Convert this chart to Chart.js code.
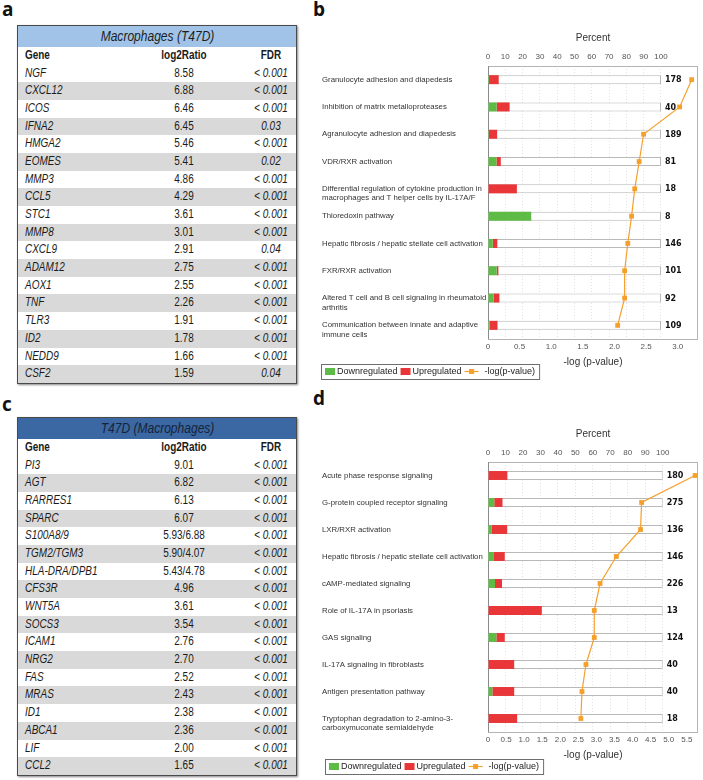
<!DOCTYPE html>
<html>
<head>
<meta charset="utf-8">
<script src="https://cdn.jsdelivr.net/npm/chart.js@4.4.1/dist/chart.umd.min.js"></script>
<style>
  body { margin: 0; width: 703px; height: 780px; position: relative; background: #fff; overflow: hidden;
         font-family: "Liberation Sans", Arial, sans-serif; }
  .lbl { position: absolute; font: bold 19px "Open Sans", "DejaVu Sans", sans-serif; color: #111; line-height: 19px; }
  .tbl { position: absolute; left: 17px; width: 278px; border: 1.5px solid #4a4a4a; box-shadow: 1px 1px 2px #888;
         font-family: "Liberation Sans", Arial, sans-serif; font-size: 12px; color: #1b1b1b; }
  .row { position: relative; height: 17.7px; line-height: 17.7px; white-space: nowrap; }
  .row.g { background: #d9d9d9; }
  .row span { position: absolute; top: 0; transform: scaleX(0.83); }
  .row .gn { left: 7px; font-style: italic; transform-origin: left center; }
  .row .rt { left: 126px; width: 80px; text-align: center; transform-origin: center; }
  .row .fd { left: 218px; width: 70px; text-align: center; transform-origin: center; }
  .row .fd i { font-style: italic; }
  .hd { height: 21px; line-height: 21px; text-align: center; font-style: italic; font-size: 14.5px; }
  .hd span { display: inline-block; transform: scaleX(0.83); }
  .ch { height: 17.5px; line-height: 17.5px; font-weight: bold; }
  .ch .gn { font-style: normal; }
  .chart { position: absolute; left: 312px; width: 391px; height: 390px; }
</style>
</head>
<body>
<div class="lbl" style="left:2px;top:0px">a</div>
<div class="lbl" style="left:313px;top:0px">b</div>
<div class="lbl" style="left:2px;top:395px">c</div>
<div class="lbl" style="left:313px;top:389px">d</div>

<div class="tbl" id="ta" style="top:25px"></div>
<div class="tbl" id="tc" style="top:417px"></div>

<div class="chart" style="top:0px"><canvas id="cb" width="391" height="390"></canvas></div>
<div class="chart" style="top:390px"><canvas id="cd" width="391" height="390"></canvas></div>

<script>
// ---- table a: Macrophages (T47D)
const aGenes = ['NGF', 'CXCL12', 'ICOS', 'IFNA2', 'HMGA2', 'EOMES', 'MMP3', 'CCL5', 'STC1', 'MMP8',
  'CXCL9', 'ADAM12', 'AOX1', 'TNF', 'TLR3', 'ID2', 'NEDD9', 'CSF2']
const aRatio = ['8.58', '6.88', '6.46', '6.45', '5.46', '5.41', '4.86', '4.29', '3.61', '3.01',
  '2.91', '2.75', '2.55', '2.26', '1.91', '1.78', '1.66', '1.59']
const aFdr = ['< 0.001', '< 0.001', '< 0.001', '0.03', '< 0.001', '0.02', '< 0.001', '< 0.001', '< 0.001', '< 0.001',
  '0.04', '< 0.001', '< 0.001', '< 0.001', '< 0.001', '< 0.001', '< 0.001', '0.04']

// ---- table c: T47D (Macrophages)
const cGenes = ['PI3', 'AGT', 'RARRES1', 'SPARC', 'S100A8/9', 'TGM2/TGM3', 'HLA-DRA/DPB1', 'CFS3R', 'WNT5A', 'SOCS3',
  'ICAM1', 'NRG2', 'FAS', 'MRAS', 'ID1', 'ABCA1', 'LIF', 'CCL2']
const cRatio = ['9.01', '6.82', '6.13', '6.07', '5.93/6.88', '5.90/4.07', '5.43/4.78', '4.96', '3.61', '3.54',
  '2.76', '2.70', '2.52', '2.43', '2.38', '2.36', '2.00', '1.65']
const cFdr = cGenes.map(() => '< 0.001')

// ---- chart b
const bPathways = [
  'Granulocyte adhesion and diapedesis',
  'Inhibition of matrix metalloproteases',
  'Agranulocyte adhesion and diapedesis',
  'VDR/RXR activation',
  ['Differential regulation of cytokine production in', 'macrophages and T helper cells by IL-17A/F'],
  'Thioredoxin pathway',
  'Hepatic fibrosis / hepatic stellate cell activation',
  'FXR/RXR activation',
  ['Altered T cell and B cell signaling in rheumatoid', 'arthritis'],
  ['Communication between innate and adaptive', 'immune cells']
]
const bDown = [0.6, 5.0, 0.5, 4.9, 0, 25.0, 2.7, 5.0, 3.3, 0.9]
const bUp = [5.6, 7.5, 4.8, 2.5, 16.7, 0, 2.7, 1.0, 3.3, 4.6]
const bTotal = [178, 40, 189, 81, 18, 8, 146, 101, 92, 109]
const bLogP = [3.22, 3.03, 2.46, 2.39, 2.32, 2.27, 2.21, 2.16, 2.16, 2.05]

// ---- chart d
const dPathways = [
  'Acute phase response signaling',
  'G-protein coupled receptor signaling',
  'LXR/RXR activation',
  'Hepatic fibrosis / hepatic stellate cell activation',
  'cAMP-mediated signaling',
  'Role of IL-17A in psoriasis',
  'GAS signaling',
  'IL-17A signaling in fibroblasts',
  'Antigen presentation pathway',
  ['Tryptophan degradation to 2-amino-3-', 'carboxymuconate semialdehyde']
]
const dDown = [0, 3.6, 2.2, 3.4, 4.0, 0, 4.8, 0, 2.5, 0]
const dUp = [11.1, 4.7, 8.8, 6.2, 4.0, 30.8, 4.8, 15.0, 12.5, 16.7]
const dTotal = [180, 275, 136, 146, 226, 13, 124, 40, 40, 18]
const dLogP = [5.73, 4.25, 4.22, 3.55, 3.10, 2.94, 2.94, 2.71, 2.60, 2.57]

function buildTable(el, title, headBg, headColor, genes, ratios, fdrs) {
  let html = `<div class="hd" style="background:${headBg};color:${headColor}"><span>${title}</span></div>`
  html += `<div class="row ch"><span class="gn">Gene</span><span class="rt">log2Ratio</span><span class="fd">FDR</span></div>`
  genes.forEach((g, i) => {
    const f = fdrs[i].startsWith('<') ? '&lt; <i>' + fdrs[i].slice(2) + '</i>' : '<i>' + fdrs[i] + '</i>'
    html += `<div class="row${i % 2 ? ' g' : ''}"><span class="gn">${g}</span><span class="rt">${ratios[i]}</span><span class="fd">${f}</span></div>`
  })
  document.getElementById(el).innerHTML = html
}

buildTable('ta', 'Macrophages (T47D)', '#a0c3e7', '#1e1e1e', aGenes, aRatio, aFdr)
buildTable('tc', 'T47D (Macrophages)', '#3b67a2', '#15243a', cGenes, cRatio, cFdr)

const GREEN = '#5dbb46'
const RED = '#e93639'
const ORANGE = '#f6a02c'

Chart.defaults.font.family = '"Liberation Sans", Arial, sans-serif'

// box around plot area
const framePlugin = {
  id: 'frame',
  beforeDatasetsDraw(chart) {
    const { ctx, chartArea: a } = chart
    ctx.save()
    ctx.strokeStyle = '#b4b4b4'
    ctx.lineWidth = 1
    ctx.strokeRect(a.left + 0.5, a.top + 0.5, a.right - a.left - 1, a.bottom - a.top)
    ctx.strokeStyle = '#8a8a8a'
    ctx.beginPath()
    ctx.moveTo(a.left + 0.5, a.top)
    ctx.lineTo(a.left + 0.5, a.bottom)
    ctx.stroke()
    ctx.restore()
  }
}

// gene counts next to each bar
const countPlugin = {
  id: 'counts',
  afterDatasetsDraw(chart, args, opts) {
    const { ctx, scales } = chart
    ctx.save()
    ctx.font = 'bold 8px "DejaVu Sans", sans-serif'
    ctx.fillStyle = '#111'
    ctx.textBaseline = 'middle'
    opts.values.forEach((v, i) => {
      ctx.fillText(String(v), scales.xp.getPixelForValue(100) + 4, scales.y.getPixelForValue(i) + 0.5)
    })
    ctx.restore()
  }
}

// framed legend under the chart
const legendBoxPlugin = {
  id: 'legendBox',
  afterDraw(chart, args, opts) {
    const ctx = chart.ctx
    const ds = chart.data.datasets
    const h = 15
    const y = opts.y + h / 2
    let x = opts.x + 4
    ctx.save()
    ctx.font = '9px "Liberation Sans", Arial, sans-serif'
    ctx.textBaseline = 'middle'
    ;[ds[0], ds[1]].forEach(d => {
      ctx.fillStyle = d.backgroundColor
      ctx.fillRect(x, y - 3.5, 10, 7)
      x += 12
      ctx.fillStyle = '#222'
      ctx.fillText(d.label, x, y + 0.5)
      x += ctx.measureText(d.label).width + 3
    })
    const ln = ds[3]
    ctx.strokeStyle = ln.borderColor
    ctx.lineWidth = 1.2
    ctx.beginPath()
    ctx.moveTo(x, y)
    ctx.lineTo(x + 14, y)
    ctx.stroke()
    ctx.fillStyle = ln.pointBackgroundColor
    ctx.fillRect(x + 4.5, y - 2.5, 5, 5)
    x += 20
    ctx.fillStyle = '#222'
    ctx.fillText(ln.label, x, y + 0.5)
    x += ctx.measureText(ln.label).width + 4
    ctx.strokeStyle = '#6e6e6e'
    ctx.lineWidth = 1
    ctx.strokeRect(opts.x + 0.5, opts.y + 0.5, x - opts.x, h)
    ctx.restore()
  }
}

function makeChart(id, labels, down, up, total, logp, cfg) {
  return new Chart(document.getElementById(id), {
    type: 'bar',
    data: {
      labels: labels,
      datasets: [
        { label: 'Downregulated', data: down, backgroundColor: GREEN, xAxisID: 'xp', stack: 'v', grouped: false, order: 2 },
        { label: 'Upregulated', data: up, backgroundColor: RED, xAxisID: 'xp', stack: 'v', grouped: false, order: 2 },
        { label: 'all genes', data: total.map(() => 100), backgroundColor: '#fff', borderColor: '#b9b9b9', borderWidth: 1,
          xAxisID: 'xp', stack: 'bg', grouped: false, order: 3 },
        { type: 'line', label: '-log(p-value)', data: logp, indexAxis: 'y', xAxisID: 'xl', yAxisID: 'y',
          borderColor: ORANGE, borderWidth: 1.2, pointStyle: 'rect', pointRadius: 3.4,
          pointBackgroundColor: ORANGE, pointBorderColor: ORANGE, pointBorderWidth: 0, order: 1 }
      ]
    },
    options: {
      indexAxis: 'y',
      responsive: false,
      animation: false,
      events: [],
      categoryPercentage: 1,
      barPercentage: 0.33,
      layout: { padding: { left: 10, right: 5, top: cfg.padTop, bottom: cfg.padBottom } },
      plugins: {
        legend: { display: false },
        tooltip: { enabled: false },
        counts: { values: total },
        legendBox: { x: cfg.legendX, y: cfg.legendY }
      },
      scales: {
        y: {
          type: 'category',
          position: 'left',
          offset: true,
          grid: { display: false, drawTicks: false },
          border: { display: false },
          ticks: {
            autoSkip: false,
            crossAlign: 'far',
            color: '#333',
            font: { size: 7.8 },
            callback(v) {
              const l = this.getLabelForValue(v)
              return Array.isArray(l) ? [''].concat(l) : l
            }
          },
          afterFit(s) { s.width = 166 }
        },
        xp: {
          type: 'linear',
          position: 'top',
          stacked: true,
          min: 0,
          max: cfg.pctMax,
          grid: { color: '#e2e2e2', drawTicks: false },
          border: { display: false, dash: [1, 2] },
          ticks: { stepSize: 10, includeBounds: false, color: '#555', font: { size: 8 }, padding: 4 },
          afterBuildTicks(s) { s.ticks = s.ticks.filter(t => t.value <= 100) },
          title: { display: true, text: 'Percent', color: '#333', font: { size: 10 }, padding: { top: 0, bottom: 4 } }
        },
        xl: {
          type: 'linear',
          position: 'bottom',
          min: 0,
          max: cfg.logMax,
          grid: { display: false, drawTicks: false },
          border: { display: false },
          ticks: {
            stepSize: 0.5,
            includeBounds: false,
            color: '#555',
            font: { size: 8 },
            padding: 3,
            callback: v => v === 0 ? '0' : v.toFixed(1)
          },
          title: { display: true, text: '-log (p-value)', color: '#333', font: { size: 10 }, padding: { top: 2, bottom: 0 } }
        }
      }
    },
    plugins: [framePlugin, countPlugin, legendBoxPlugin]
  })
}

makeChart('cb', bPathways, bDown, bUp, bTotal, bLogP,
  { pctMax: 121.4, logMax: 3.32, padTop: 32.4, padBottom: 21.4, legendX: 9, legendY: 364 })
makeChart('cd', dPathways, dDown, dUp, dTotal, dLogP,
  { pctMax: 120.2, logMax: 5.81, padTop: 38.4, padBottom: 18.4, legendX: 13, legendY: 369 })
</script>
</body>
</html>
